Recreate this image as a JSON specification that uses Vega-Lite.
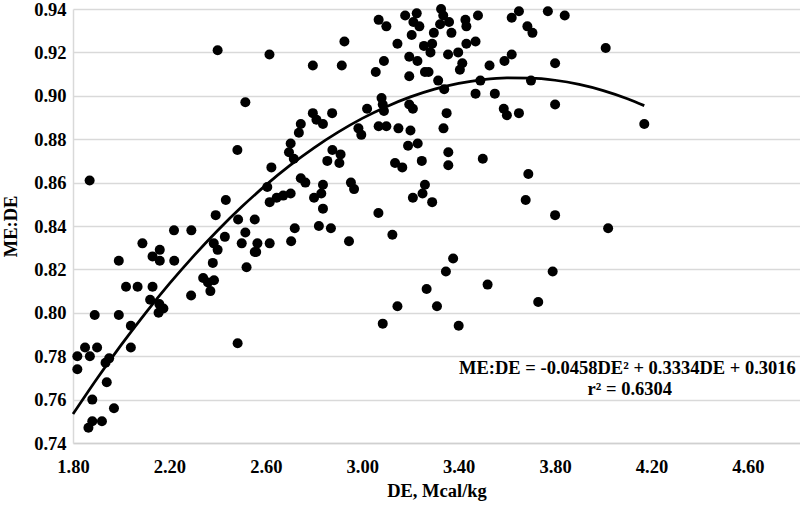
{
  "$schema": "https://vega.github.io/schema/vega-lite/v6.json",
  "width": 727,
  "height": 434,
  "autosize": "none",
  "padding": {"left": 73, "top": 9, "right": 0, "bottom": 62},
  "background": "white",
  "config": {"view": {"stroke": null}, "font": "Liberation Serif"},
  "datasets": {
    "points": [
      {"DE":1.818,"MEDE":0.780},{"DE":1.818,"MEDE":0.774},{"DE":1.85,"MEDE":0.784},{"DE":1.87,"MEDE":0.780},{"DE":1.90,"MEDE":0.784},
      {"DE":1.89,"MEDE":0.799},{"DE":1.864,"MEDE":0.747},{"DE":1.88,"MEDE":0.750},{"DE":1.92,"MEDE":0.750},{"DE":1.88,"MEDE":0.760},
      {"DE":1.94,"MEDE":0.768},{"DE":1.935,"MEDE":0.777},{"DE":1.95,"MEDE":0.779},{"DE":1.97,"MEDE":0.756},{"DE":1.99,"MEDE":0.799},
      {"DE":1.99,"MEDE":0.824},{"DE":2.02,"MEDE":0.812},{"DE":2.068,"MEDE":0.812},{"DE":2.04,"MEDE":0.794},{"DE":2.04,"MEDE":0.784},
      {"DE":2.13,"MEDE":0.812},{"DE":2.12,"MEDE":0.806},{"DE":2.158,"MEDE":0.804},{"DE":2.155,"MEDE":0.800},{"DE":2.175,"MEDE":0.802},
      {"DE":2.13,"MEDE":0.826},{"DE":2.16,"MEDE":0.824},{"DE":2.16,"MEDE":0.829},{"DE":2.22,"MEDE":0.824},{"DE":2.29,"MEDE":0.808},
      {"DE":2.34,"MEDE":0.816},{"DE":2.36,"MEDE":0.814},{"DE":2.37,"MEDE":0.810},{"DE":2.385,"MEDE":0.815},{"DE":2.38,"MEDE":0.823},
      {"DE":2.40,"MEDE":0.829},{"DE":2.483,"MEDE":0.786},{"DE":2.52,"MEDE":0.821},{"DE":2.56,"MEDE":0.828},{"DE":1.869,"MEDE":0.861},
      {"DE":2.482,"MEDE":0.875},{"DE":2.434,"MEDE":0.852},{"DE":2.392,"MEDE":0.845},{"DE":2.485,"MEDE":0.843},{"DE":2.219,"MEDE":0.838},
      {"DE":2.291,"MEDE":0.838},{"DE":2.43,"MEDE":0.835},{"DE":2.384,"MEDE":0.832},{"DE":2.088,"MEDE":0.832},{"DE":2.50,"MEDE":0.832},
      {"DE":2.515,"MEDE":0.837},{"DE":2.554,"MEDE":0.843},{"DE":2.565,"MEDE":0.832},{"DE":2.554,"MEDE":0.828},{"DE":2.616,"MEDE":0.832},
      {"DE":2.40,"MEDE":0.921},{"DE":2.615,"MEDE":0.919},{"DE":2.515,"MEDE":0.897},{"DE":2.795,"MEDE":0.914},{"DE":2.915,"MEDE":0.914},
      {"DE":2.926,"MEDE":0.925},{"DE":2.795,"MEDE":0.892},{"DE":2.81,"MEDE":0.889},{"DE":2.837,"MEDE":0.887},{"DE":2.875,"MEDE":0.892},
      {"DE":2.745,"MEDE":0.887},{"DE":2.737,"MEDE":0.883},{"DE":2.703,"MEDE":0.878},{"DE":2.696,"MEDE":0.874},{"DE":2.716,"MEDE":0.871},
      {"DE":2.623,"MEDE":0.867},{"DE":2.606,"MEDE":0.858},{"DE":2.616,"MEDE":0.851},{"DE":2.645,"MEDE":0.853},{"DE":2.672,"MEDE":0.854},
      {"DE":2.703,"MEDE":0.855},{"DE":2.745,"MEDE":0.862},{"DE":2.764,"MEDE":0.860},{"DE":2.837,"MEDE":0.859},{"DE":2.83,"MEDE":0.855},
      {"DE":2.80,"MEDE":0.853},{"DE":2.837,"MEDE":0.848},{"DE":2.876,"MEDE":0.875},{"DE":2.91,"MEDE":0.873},{"DE":2.905,"MEDE":0.869},
      {"DE":2.855,"MEDE":0.870},{"DE":2.953,"MEDE":0.860},{"DE":2.966,"MEDE":0.857},{"DE":2.984,"MEDE":0.885},{"DE":2.996,"MEDE":0.882},
      {"DE":3.02,"MEDE":0.894},{"DE":2.72,"MEDE":0.839},{"DE":2.82,"MEDE":0.840},{"DE":2.87,"MEDE":0.839},{"DE":2.705,"MEDE":0.833},
      {"DE":2.945,"MEDE":0.833},{"DE":3.068,"MEDE":0.935},{"DE":3.10,"MEDE":0.932},{"DE":3.178,"MEDE":0.937},{"DE":3.226,"MEDE":0.938},
      {"DE":3.212,"MEDE":0.934},{"DE":3.237,"MEDE":0.932},{"DE":3.327,"MEDE":0.940},{"DE":3.336,"MEDE":0.937},{"DE":3.323,"MEDE":0.933},
      {"DE":3.36,"MEDE":0.934},{"DE":3.428,"MEDE":0.935},{"DE":3.432,"MEDE":0.932},{"DE":3.48,"MEDE":0.937},{"DE":3.205,"MEDE":0.928},
      {"DE":3.297,"MEDE":0.929},{"DE":3.37,"MEDE":0.929},{"DE":3.146,"MEDE":0.924},{"DE":3.256,"MEDE":0.923},{"DE":3.29,"MEDE":0.924},
      {"DE":3.283,"MEDE":0.920},{"DE":3.356,"MEDE":0.919},{"DE":3.398,"MEDE":0.920},{"DE":3.432,"MEDE":0.924},{"DE":3.47,"MEDE":0.925},
      {"DE":3.195,"MEDE":0.918},{"DE":3.229,"MEDE":0.916},{"DE":3.09,"MEDE":0.916},{"DE":3.056,"MEDE":0.911},{"DE":3.195,"MEDE":0.909},
      {"DE":3.26,"MEDE":0.911},{"DE":3.275,"MEDE":0.911},{"DE":3.415,"MEDE":0.915},{"DE":3.405,"MEDE":0.912},{"DE":3.315,"MEDE":0.907},
      {"DE":3.34,"MEDE":0.903},{"DE":3.47,"MEDE":0.901},{"DE":3.08,"MEDE":0.899},{"DE":3.085,"MEDE":0.896},{"DE":3.09,"MEDE":0.893},
      {"DE":3.195,"MEDE":0.896},{"DE":3.21,"MEDE":0.894},{"DE":3.35,"MEDE":0.892},{"DE":3.068,"MEDE":0.886},{"DE":3.10,"MEDE":0.886},
      {"DE":3.15,"MEDE":0.885},{"DE":3.20,"MEDE":0.884},{"DE":3.337,"MEDE":0.885},{"DE":3.19,"MEDE":0.877},{"DE":3.23,"MEDE":0.878},
      {"DE":3.357,"MEDE":0.874},{"DE":3.136,"MEDE":0.869},{"DE":3.166,"MEDE":0.867},{"DE":3.247,"MEDE":0.870},{"DE":3.357,"MEDE":0.868},
      {"DE":3.26,"MEDE":0.859},{"DE":3.25,"MEDE":0.855},{"DE":3.21,"MEDE":0.853},{"DE":3.29,"MEDE":0.851},{"DE":3.067,"MEDE":0.846},
      {"DE":3.125,"MEDE":0.836},{"DE":3.377,"MEDE":0.825},{"DE":3.347,"MEDE":0.819},{"DE":3.267,"MEDE":0.811},{"DE":3.146,"MEDE":0.803},
      {"DE":3.31,"MEDE":0.803},{"DE":3.085,"MEDE":0.795},{"DE":3.40,"MEDE":0.794},{"DE":3.62,"MEDE":0.936},{"DE":3.65,"MEDE":0.939},
      {"DE":3.685,"MEDE":0.932},{"DE":3.706,"MEDE":0.929},{"DE":3.77,"MEDE":0.939},{"DE":3.84,"MEDE":0.937},{"DE":4.01,"MEDE":0.922},
      {"DE":3.62,"MEDE":0.919},{"DE":3.59,"MEDE":0.916},{"DE":3.528,"MEDE":0.914},{"DE":3.80,"MEDE":0.915},{"DE":3.49,"MEDE":0.907},
      {"DE":3.70,"MEDE":0.907},{"DE":3.55,"MEDE":0.901},{"DE":3.80,"MEDE":0.896},{"DE":3.587,"MEDE":0.894},{"DE":3.60,"MEDE":0.891},
      {"DE":3.65,"MEDE":0.892},{"DE":4.17,"MEDE":0.887},{"DE":3.50,"MEDE":0.871},{"DE":3.689,"MEDE":0.864},{"DE":3.678,"MEDE":0.852},
      {"DE":3.80,"MEDE":0.845},{"DE":4.02,"MEDE":0.839},{"DE":3.79,"MEDE":0.819},{"DE":3.52,"MEDE":0.813},{"DE":3.73,"MEDE":0.805}
    ],
    "trend": [
      {"DE":1.8,"MEDE":0.75333},{"DE":1.9,"MEDE":0.76972},{"DE":2.0,"MEDE":0.7852},{"DE":2.1,"MEDE":0.79976},{"DE":2.2,"MEDE":0.81341},
      {"DE":2.3,"MEDE":0.82614},{"DE":2.4,"MEDE":0.83795},{"DE":2.5,"MEDE":0.84885},{"DE":2.6,"MEDE":0.85883},{"DE":2.7,"MEDE":0.8679},
      {"DE":2.8,"MEDE":0.87605},{"DE":2.9,"MEDE":0.88328},{"DE":3.0,"MEDE":0.8896},{"DE":3.1,"MEDE":0.895},{"DE":3.2,"MEDE":0.89949},
      {"DE":3.3,"MEDE":0.90306},{"DE":3.4,"MEDE":0.90571},{"DE":3.5,"MEDE":0.90745},{"DE":3.6,"MEDE":0.90827},{"DE":3.7,"MEDE":0.90818},
      {"DE":3.8,"MEDE":0.90717},{"DE":3.9,"MEDE":0.90524},{"DE":4.0,"MEDE":0.9024},{"DE":4.1,"MEDE":0.89864},{"DE":4.17,"MEDE":0.89547}
    ],
    "notes": [
      {"DE":4.10,"MEDE":0.7745,"label":"ME:DE = -0.0458DE² + 0.3334DE + 0.3016"},
      {"DE":4.11,"MEDE":0.7648,"label":"r² = 0.6304"}
    ]
  },
  "layer": [
    {
      "data": {"name": "points"},
      "mark": {"type": "circle", "size": 100, "color": "black", "opacity": 1},
      "encoding": {
        "x": {
          "field": "DE", "type": "quantitative",
          "scale": {"domain": [1.8, 4.816], "nice": false, "zero": false},
          "axis": {
            "values": [1.8, 2.2, 2.6, 3.0, 3.4, 3.8, 4.2, 4.6], "format": ".2f", "grid": false,
            "tickSize": 0, "labelPadding": 14, "labelFlush": false,
            "labelFont": "Liberation Serif", "labelFontWeight": "bold", "labelFontSize": 18.5, "labelColor": "black",
            "domainColor": "#d0d0d0", "domainWidth": 1.5,
            "title": "DE, Mcal/kg", "titleFont": "Liberation Serif", "titleFontWeight": "bold", "titleFontSize": 18.5,
            "titleColor": "black", "titlePadding": 6
          }
        },
        "y": {
          "field": "MEDE", "type": "quantitative",
          "scale": {"domain": [0.74, 0.94], "nice": false, "zero": false},
          "axis": {
            "values": [0.74, 0.76, 0.78, 0.80, 0.82, 0.84, 0.86, 0.88, 0.90, 0.92, 0.94], "format": ".2f",
            "grid": true, "gridColor": "#d9d9d9", "gridWidth": 1.5,
            "tickSize": 0, "labelPadding": 7, "labelFlush": false,
            "labelFont": "Liberation Serif", "labelFontWeight": "bold", "labelFontSize": 18.5, "labelColor": "black",
            "domainColor": "#d9d9d9", "domainWidth": 1.5,
            "title": "ME:DE", "titleFont": "Liberation Serif", "titleFontWeight": "bold", "titleFontSize": 18.5,
            "titleColor": "black", "titlePadding": 13
          }
        }
      }
    },
    {
      "data": {"name": "trend"},
      "mark": {"type": "line", "color": "black", "strokeWidth": 2.75, "interpolate": "monotone"},
      "encoding": {
        "x": {"field": "DE", "type": "quantitative"},
        "y": {"field": "MEDE", "type": "quantitative"}
      }
    },
    {
      "data": {"name": "notes"},
      "mark": {"type": "text", "font": "Liberation Serif", "fontWeight": "bold", "fontSize": 18.5, "align": "center", "baseline": "middle", "color": "black"},
      "encoding": {
        "x": {"field": "DE", "type": "quantitative"},
        "y": {"field": "MEDE", "type": "quantitative"},
        "text": {"field": "label", "type": "nominal"}
      }
    }
  ]
}
